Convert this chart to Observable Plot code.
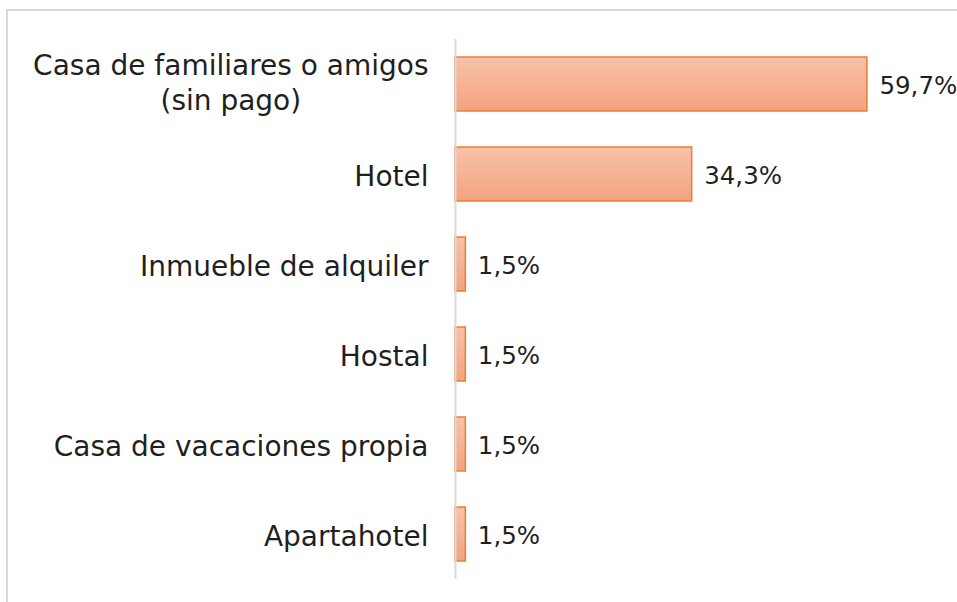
<!DOCTYPE html>
<html><head><meta charset="utf-8">
<script src="https://cdn.jsdelivr.net/npm/d3@7"></script>
<script src="https://cdn.jsdelivr.net/npm/@observablehq/plot@0.6"></script>
<style>
html,body{margin:0;padding:0;background:#fff;}
#wrap{position:relative;width:957px;height:602px;overflow:hidden;}
#frame{position:absolute;left:6px;top:9px;right:-10px;bottom:-10px;border-left:2px solid #d9d9d9;border-top:2px solid #d9d9d9;pointer-events:none;}
</style></head><body>
<div id="wrap"><div id="frame"></div></div>
<script>
const categories = [
  "Casa de familiares o amigos\n(sin pago)",
  "Hotel",
  "Inmueble de alquiler",
  "Hostal",
  "Casa de vacaciones propia",
  "Apartahotel"
];
const values = [59.7, 34.3, 1.5, 1.5, 1.5, 1.5];
const xMax = 70;

const data = categories.map((c, i) => ({category: c, value: values[i]}));
const fmt = v => v.toFixed(1).replace(".", ",") + "%";

const defs = () => {
  const d = d3.create("svg:defs");
  const g = d.append("linearGradient").attr("id", "barGrad")
    .attr("x1", 0).attr("y1", 0).attr("x2", 0).attr("y2", 1);
  g.append("stop").attr("offset", "0%").attr("stop-color", "#f7c2aa");
  g.append("stop").attr("offset", "100%").attr("stop-color", "#f4a27f");
  return d.node();
};

const chart = Plot.plot({
  width: 957, height: 602,
  marginLeft: 455, marginRight: 19, marginTop: 39, marginBottom: 23,
  style: {fontFamily: "DejaVu Sans", fontSize: "28px", color: "#1f1f1f", background: "transparent"},
  x: {domain: [0, xMax], axis: null},
  y: {domain: categories, paddingInner: 0.4, paddingOuter: 0.2, label: null},
  marks: [
    defs,
    Plot.barX(data, {x: "value", y: "category", fill: "url(#barGrad)", stroke: "#ed7d31", strokeWidth: 1.5}),
    Plot.ruleX([0], {stroke: "#d9d9d9", strokeWidth: 2}),
    Plot.axisY({tickSize: 0, tickPadding: 27, fontSize: 28, lineHeight: 1.25, fill: "#1f1f1f"}),
    Plot.text(data, {x: "value", y: "category", text: d => fmt(d.value), dx: 12, dy: 2, textAnchor: "start", fontSize: 24.5, fill: "#1f1f1f"})
  ]
});
document.getElementById("wrap").insertBefore(chart, document.getElementById("frame"));

// center multi-line category labels (as in the original)
chart.querySelectorAll('g[aria-label="y-axis tick label"] text').forEach(t => {
  const spans = t.querySelectorAll("tspan");
  if (spans.length < 2) return;
  const w = Math.max(...Array.from(spans, s => s.getComputedTextLength()));
  t.setAttribute("text-anchor", "middle");
  t.style.textAnchor = "middle";
  spans.forEach(s => s.setAttribute("x", -w / 2));
  t.setAttribute("transform", (t.getAttribute("transform") || "") + " translate(0,-3)");
});
</script>
</body></html>
